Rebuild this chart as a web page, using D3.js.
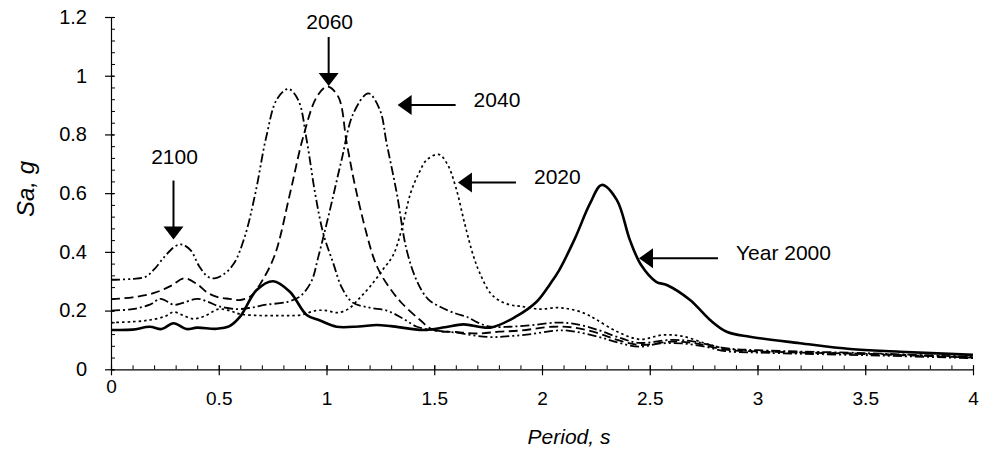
<!DOCTYPE html>
<html>
<head>
<meta charset="utf-8">
<script src="https://cdn.jsdelivr.net/npm/d3@7"></script>
<style>
  html, body { margin: 0; padding: 0; background: #fff; }
  svg { display: block; font-family: "Liberation Sans", Arial, sans-serif; }
</style>
</head>
<body>
<svg id="chart" width="981" height="451"></svg>
<script>
// Spectral acceleration Sa (g) against period T (s) for five projection years.
// Each series is a list of [period, Sa] pairs.
const year2000 = [[0,0.134],[0.1,0.135],[0.18,0.145],[0.235,0.137],[0.29,0.157],[0.35,0.137],[0.4,0.142],[0.49,0.138],[0.55,0.147],[0.6,0.18],[0.676,0.27],[0.753,0.3],[0.83,0.264],[0.908,0.185],[0.97,0.166],[1.047,0.145],[1.15,0.146],[1.233,0.151],[1.3,0.147],[1.45,0.134],[1.55,0.143],[1.635,0.153],[1.76,0.142],[1.88,0.18],[1.975,0.23],[2.037,0.29],[2.08,0.338],[2.153,0.446],[2.223,0.565],[2.277,0.628],[2.347,0.577],[2.408,0.44],[2.46,0.355],[2.53,0.298],[2.579,0.287],[2.687,0.236],[2.78,0.168],[2.857,0.128],[2.965,0.111],[3.197,0.089],[3.43,0.069],[3.66,0.06],[4.0,0.049]];

const year2020 = [[0,0.159],[0.1,0.162],[0.18,0.168],[0.25,0.18],[0.29,0.195],[0.33,0.185],[0.38,0.172],[0.43,0.18],[0.5,0.205],[0.55,0.2],[0.6,0.188],[0.7,0.183],[0.8,0.183],[0.88,0.185],[0.95,0.2],[1.0,0.2],[1.05,0.193],[1.1,0.205],[1.15,0.24],[1.2,0.28],[1.26,0.338],[1.31,0.39],[1.35,0.48],[1.39,0.6],[1.43,0.67],[1.465,0.713],[1.52,0.732],[1.56,0.7],[1.6,0.62],[1.64,0.5],[1.68,0.39],[1.71,0.33],[1.76,0.26],[1.8,0.235],[1.85,0.22],[1.9,0.215],[1.99,0.205],[2.07,0.21],[2.13,0.205],[2.2,0.19],[2.25,0.17],[2.35,0.128],[2.455,0.102],[2.56,0.117],[2.65,0.113],[2.75,0.09],[2.81,0.077],[2.9,0.066],[3.0,0.062],[3.5,0.053],[4.0,0.042]];

const year2040 = [[0,0.2],[0.1,0.205],[0.18,0.22],[0.23,0.24],[0.29,0.22],[0.33,0.225],[0.4,0.24],[0.45,0.23],[0.5,0.215],[0.58,0.205],[0.65,0.21],[0.72,0.22],[0.82,0.23],[0.88,0.25],[0.93,0.3],[0.962,0.383],[1.016,0.543],[1.07,0.713],[1.125,0.872],[1.194,0.94],[1.248,0.883],[1.279,0.77],[1.326,0.6],[1.372,0.406],[1.42,0.3],[1.47,0.24],[1.527,0.213],[1.6,0.19],[1.65,0.179],[1.7,0.16],[1.76,0.145],[1.85,0.145],[1.95,0.15],[2.07,0.159],[2.15,0.155],[2.26,0.134],[2.35,0.11],[2.45,0.09],[2.6,0.1],[2.7,0.095],[2.85,0.072],[3.0,0.065],[3.5,0.055],[4.0,0.042]];

const year2060 = [[0,0.239],[0.1,0.245],[0.2,0.26],[0.28,0.285],[0.34,0.31],[0.4,0.29],[0.45,0.26],[0.5,0.245],[0.55,0.24],[0.6,0.236],[0.65,0.25],[0.7,0.3],[0.76,0.389],[0.831,0.6],[0.892,0.792],[0.955,0.928],[1.004,0.963],[1.055,0.928],[1.094,0.77],[1.14,0.6],[1.217,0.383],[1.25,0.327],[1.3,0.27],[1.35,0.225],[1.434,0.168],[1.495,0.134],[1.6,0.127],[1.7,0.122],[1.8,0.128],[1.9,0.132],[2.05,0.145],[2.15,0.142],[2.26,0.123],[2.35,0.1],[2.45,0.083],[2.6,0.094],[2.7,0.09],[2.85,0.067],[3.0,0.061],[3.5,0.052],[4.0,0.04]];

const year2100 = [[0,0.305],[0.1,0.308],[0.16,0.315],[0.2,0.34],[0.25,0.385],[0.3,0.42],[0.33,0.425],[0.37,0.405],[0.41,0.35],[0.45,0.315],[0.48,0.31],[0.52,0.322],[0.57,0.36],[0.62,0.45],[0.67,0.6],[0.72,0.79],[0.77,0.92],[0.823,0.955],[0.869,0.917],[0.908,0.781],[0.947,0.6],[0.985,0.463],[1.032,0.36],[1.07,0.28],[1.12,0.228],[1.2,0.21],[1.28,0.2],[1.35,0.175],[1.42,0.145],[1.5,0.133],[1.6,0.125],[1.75,0.11],[1.85,0.113],[1.95,0.12],[2.05,0.131],[2.12,0.132],[2.26,0.111],[2.35,0.092],[2.45,0.077],[2.55,0.088],[2.65,0.088],[2.75,0.078],[2.85,0.062],[3.0,0.057],[3.5,0.048],[4.0,0.038]];

const seriesNames = ["Year 2000", "2020", "2040", "2060", "2100"];

const xMajorTicks = [0, 0.5, 1, 1.5, 2, 2.5, 3, 3.5, 4];
const xTickLabels = ["0", "0.5", "1", "1.5", "2", "2.5", "3", "3.5", "4"];
const yMajorTicks = [0, 0.2, 0.4, 0.6, 0.8, 1, 1.2];
const yTickLabels = ["0", "0.2", "0.4", "0.6", "0.8", "1", "1.2"];

const xTitle = "Period, s";
const yTitle = "Sa, g";

// Callouts: label, the [period, Sa] point the arrow head touches, and arrow direction
const calloutLabels = ["2100", "2060", "2040", "2020", "Year 2000"];
const calloutTargets = [[0.29, 0.442], [1.01, 0.965], [1.33, 0.9], [1.61, 0.636], [2.45, 0.378]];
const calloutDirections = ["down", "down", "left", "left", "left"];

// ---- drawing ----
const svg = d3.select("#chart");
const x = d3.scaleLinear().domain([0, 4]).range([111, 973]);
const y = d3.scaleLinear().domain([0, 1.2]).range([369.3, 17]);

const line = d3.line()
  .x(d => x(d[0]))
  .y(d => y(d[1]))
  .curve(d3.curveCatmullRom.alpha(0.5));

const styles = [
  { data: year2000, width: 2.6, dash: null },
  { data: year2020, width: 1.7, dash: "2.5,3" },
  { data: year2040, width: 1.8, dash: "9,3,2,3" },
  { data: year2060, width: 1.8, dash: "9,4.5" },
  { data: year2100, width: 1.8, dash: "9,3,2,3,2,3" }
];

const curves = svg.append("g");
styles.forEach((s, i) => {
  curves.append("path")
    .datum(s.data)
    .attr("class", "series")
    .attr("data-name", seriesNames[i])
    .attr("fill", "none")
    .attr("stroke", "#000")
    .attr("stroke-width", s.width)
    .attr("stroke-linejoin", "round")
    .attr("stroke-dasharray", s.dash)
    .attr("d", line);
});

// X axis: minor ticks every 0.1 pointing inward, major ticks every 0.5 crossing the line
const xMinor = d3.range(0, 41).map(i => i / 10);
svg.append("g")
  .attr("transform", `translate(0,${y(0)})`)
  .call(d3.axisBottom(x).tickValues(xMinor).tickSize(-4).tickSizeOuter(0).tickFormat(""))
  .call(g => g.select(".domain").remove())
  .call(g => g.selectAll("line").attr("stroke", "#000"));

const xAxis = svg.append("g")
  .attr("transform", `translate(0,${y(0)})`)
  .call(d3.axisBottom(x).tickValues(xMajorTicks).tickSize(6).tickSizeOuter(0)
    .tickPadding(16).tickFormat((d, i) => xTickLabels[i]));
xAxis.select(".domain").attr("stroke", "#000").attr("stroke-width", 1.2);
xAxis.selectAll(".tick line").attr("y1", -4).attr("stroke", "#000").attr("stroke-width", 1.2);
xAxis.selectAll(".tick text")
  .attr("font-size", 19).attr("font-family", "Liberation Sans, Arial, sans-serif").attr("fill", "#000")
  .filter(d => d === 0).attr("y", 10);

// Y axis: minor ticks every 0.04 pointing inward, major every 0.2 pointing outward
const yMinor = d3.range(0, 31).map(i => i * 0.04);
svg.append("g")
  .attr("transform", `translate(${x(0)},0)`)
  .call(d3.axisLeft(y).tickValues(yMinor).tickSize(-4).tickSizeOuter(0).tickFormat(""))
  .call(g => g.select(".domain").remove())
  .call(g => g.selectAll("line").attr("stroke", "#000"));

const yAxis = svg.append("g")
  .attr("transform", `translate(${x(0)},0)`)
  .call(d3.axisLeft(y).tickValues(yMajorTicks).tickSize(6).tickSizeOuter(0)
    .tickPadding(18).tickFormat((d, i) => yTickLabels[i]));
yAxis.select(".domain").attr("stroke", "#000").attr("stroke-width", 1.2);
yAxis.selectAll(".tick line").attr("x1", 3).attr("stroke", "#000").attr("stroke-width", 1.2);
yAxis.selectAll(".tick text")
  .attr("font-size", 20).attr("font-family", "Liberation Sans, Arial, sans-serif").attr("fill", "#000");

// Axis titles
svg.append("text")
  .attr("x", 569).attr("y", 444)
  .attr("text-anchor", "middle")
  .attr("font-size", 21).attr("font-style", "italic")
  .text(xTitle);

svg.append("text")
  .attr("transform", "translate(34,189) rotate(-90)")
  .attr("text-anchor", "middle")
  .attr("font-size", 24).attr("font-style", "italic")
  .text(yTitle);

// Callout arrows with labels; shaft length and label gap differ per callout
const shaftLength = [47, 37, 58, 58, 79];
const labelGap = [76, 57, 18, 18, 18];
const callouts = svg.append("g").attr("class", "callouts");
calloutLabels.forEach((label, i) => {
  const tx = x(calloutTargets[i][0]);
  const ty = y(calloutTargets[i][1]);
  const g = callouts.append("g");
  if (calloutDirections[i] === "down") {
    g.append("line").attr("x1", tx).attr("x2", tx).attr("y1", ty - 12 - shaftLength[i]).attr("y2", ty - 12)
      .attr("stroke", "#000").attr("stroke-width", 2);
    g.append("path").attr("d", `M${tx},${ty} L${tx - 10},${ty - 13} L${tx + 10},${ty - 13} Z`).attr("fill", "#000");
    g.append("text").attr("x", tx + 1).attr("y", ty - labelGap[i]).attr("text-anchor", "middle")
      .attr("font-size", 21).text(label);
  } else {
    const len = shaftLength[i];
    g.append("line").attr("x1", tx + 12).attr("x2", tx + len).attr("y1", ty).attr("y2", ty)
      .attr("stroke", "#000").attr("stroke-width", 2);
    g.append("path").attr("d", `M${tx},${ty} L${tx + 14},${ty - 10} L${tx + 14},${ty + 10} Z`).attr("fill", "#000");
    g.append("text").attr("x", tx + len + labelGap[i]).attr("y", ty + 1.5).attr("text-anchor", "start")
      .attr("font-size", 21).text(label);
  }
});
</script>
</body>
</html>
